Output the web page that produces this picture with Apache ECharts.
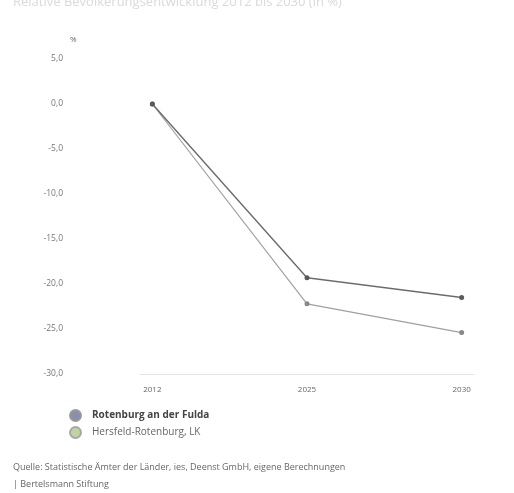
<!DOCTYPE html>
<html>
<head>
<meta charset="utf-8">
<script src="https://cdn.jsdelivr.net/npm/echarts@6/dist/echarts.min.js"></script>
<style>
  html, body { margin: 0; padding: 0; background: #fff; }
  #chart { width: 514px; height: 493px; }
</style>
</head>
<body>
<div id="chart"></div>
<script>
// Population change relative to 2012, in percent
const years = ['2012', '2025', '2030'];
const rotenburgValues = [0.0, -19.3, -21.5];
const landkreisValues = [0.0, -22.2, -25.4];
const seriesNames = ['Rotenburg an der Fulda', 'Hersfeld-Rotenburg, LK'];

const toPoints = vals => vals.map((v, i) => [i, v]);
const fmt = v => v.toFixed(1).replace('.', ',');
const font = '"Open Sans", "Noto Sans", sans-serif';

const chart = echarts.init(document.getElementById('chart'), null, { renderer: 'canvas' });
chart.setOption({
  animation: false,
  backgroundColor: '#ffffff',
  textStyle: { fontFamily: font },
  title: [
    {
      text: 'Relative Bevölkerungsentwicklung 2012 bis 2030 (in %)',
      left: 8, top: -9,
      textStyle: { fontSize: 13, fontWeight: 'normal', color: '#dadada', fontFamily: font }
    },
    {
      text: 'Quelle: Statistische Ämter der Länder, ies, Deenst GmbH, eigene Berechnungen',
      left: 8, top: 458,
      textStyle: { fontSize: 9, fontWeight: 'normal', color: '#666', fontFamily: font }
    },
    {
      text: '| Bertelsmann Stiftung',
      left: 8, top: 475,
      textStyle: { fontSize: 9, fontWeight: 'normal', color: '#666', fontFamily: font }
    }
  ],
  graphic: [
    {
      type: 'text', left: 70, top: 36,
      style: { text: '%', fill: '#666', fontSize: 8, fontFamily: font }
    }
  ],
  grid: { left: 140, right: 40, top: 59, bottom: 119 },
  legend: {
    orient: 'vertical',
    left: 64, top: 404,
    itemWidth: 11, itemHeight: 11, itemGap: 4,
    icon: 'circle',
    data: [
      { name: seriesNames[0], itemStyle: { color: '#8a8fab', borderColor: '#9a9a9a', borderWidth: 2 },
        textStyle: { fontWeight: 'bold', color: '#444' } },
      { name: seriesNames[1], itemStyle: { color: '#c3d3a0', borderColor: '#a8a8a8', borderWidth: 2 },
        textStyle: { color: '#666' } }
    ],
    textStyle: { fontSize: 10, fontFamily: font, padding: [0, 0, 0, 6] }
  },
  xAxis: {
    type: 'value',
    min: -0.08, max: 2.08,
    splitLine: { show: false },
    axisLine: { show: true, onZero: false, lineStyle: { color: '#e4e4e4', width: 1 } },
    axisTick: { show: false },
    axisLabel: {
      customValues: [0, 1, 2],
      formatter: v => years[Math.round(v)] || '',
      color: '#666', fontSize: 8, margin: 12
    }
  },
  yAxis: {
    type: 'value',
    min: -30, max: 5, interval: 5,
    offset: 67,
    splitLine: { show: false },
    axisLine: { show: false, onZero: false },
    axisTick: { show: false },
    axisLabel: { formatter: v => fmt(v), color: '#777', fontSize: 8.5, margin: 10 }
  },
  series: [
    {
      name: seriesNames[0],
      type: 'line',
      data: toPoints(rotenburgValues),
      symbol: 'circle', symbolSize: 5,
      lineStyle: { color: '#6c6c6c', width: 1.4 },
      itemStyle: { color: '#5a5a5a' },
      z: 3
    },
    {
      name: seriesNames[1],
      type: 'line',
      data: toPoints(landkreisValues),
      symbol: 'circle', symbolSize: 5,
      lineStyle: { color: '#a0a0a0', width: 1.2 },
      itemStyle: { color: '#888888' },
      z: 2
    }
  ]
});
</script>
</body>
</html>
